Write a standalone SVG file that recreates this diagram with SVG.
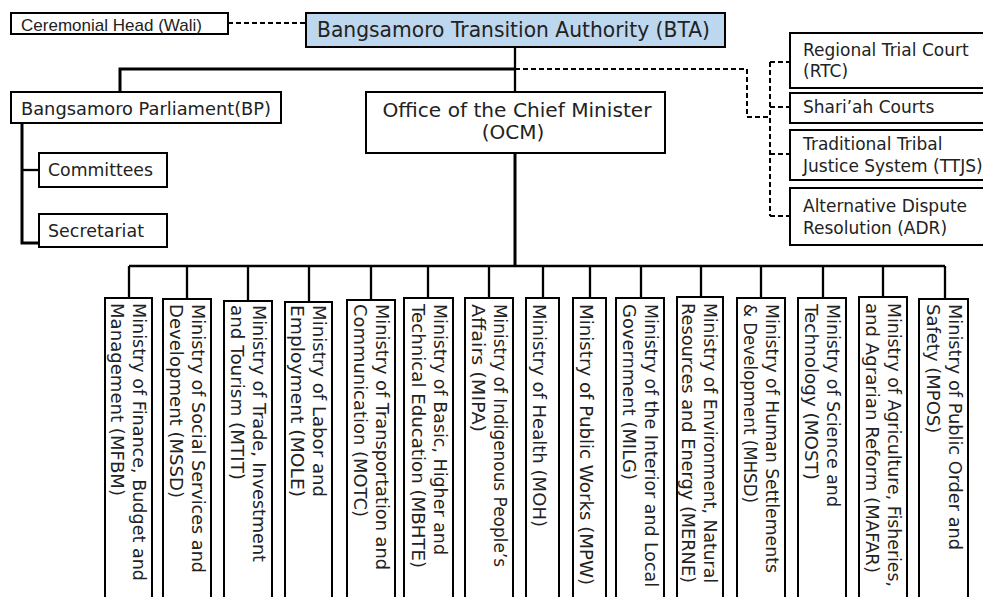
<svg xmlns="http://www.w3.org/2000/svg" width="983" height="597" viewBox="0 0 983 597">
<style>
.box{fill:#fff;stroke:#000;stroke-width:2}
.bta{fill:#bdd7ee;stroke:#000;stroke-width:2}
.t{font-family:"DejaVu Sans","Liberation Sans",sans-serif;fill:#222}
.h{stroke:#000;stroke-width:3;fill:none}
.s{stroke:#000;stroke-width:2.3;fill:none}
.d{stroke:#000;stroke-width:2;fill:none;stroke-dasharray:5 3}
.m{font-size:18px}
</style>
<rect width="983" height="597" fill="#fff"/>
<g id="connectors">
<path class="d" d="M228 23H306"/>
<path class="s" d="M515 47V92"/>
<path class="h" d="M120 92V69H515"/>
<path class="d" d="M515 69H747V117H770"/>
<path class="d" d="M770 62V216M770 62H790M770 107H790M770 154H790M770 216H790"/>
<path class="h" d="M22 123V243H39"/>
<path class="s" d="M22 170H39"/>
<path class="h" d="M515 153V266"/>
<path class="s" d="M129 266H945"/>
<path class="s" d="M129 266V298M187 266V299M248 266V301M309 266V302M371 266V300M428 266V298M489 266V298M543 266V298M590 266V298M641 266V298M701 266V297M761 266V298M823 266V298M883 266V297M945 266V299"/>
</g>
<g id="wali"><rect class="box" x="11" y="13" width="217" height="21"/><text x="21" y="31" font-family="'Liberation Sans', Arial, sans-serif" fill="#222" font-size="17" textLength="181" lengthAdjust="spacingAndGlyphs">Ceremonial Head (Wali)</text></g>
<g id="bta"><rect class="bta" x="306" y="13" width="419" height="34"/><text class="t" x="317" y="37" font-size="21" textLength="393" lengthAdjust="spacingAndGlyphs">Bangsamoro Transition Authority (BTA)</text></g>
<g id="bp"><rect class="box" x="11" y="92" width="270" height="31"/><text class="t" x="21" y="115" font-size="18" textLength="250" lengthAdjust="spacingAndGlyphs">Bangsamoro Parliament(BP)</text></g>
<g id="ocm"><rect class="box" x="366" y="92" width="299" height="61"/><text class="t" font-size="20" text-anchor="middle"><tspan x="517" y="117" textLength="269" lengthAdjust="spacingAndGlyphs">Office of the Chief Minister</tspan><tspan x="513" y="139">(OCM)</tspan></text></g>
<g id="committees"><rect class="box" x="39" y="153" width="128" height="34"/><text class="t" x="48" y="176" font-size="18" textLength="105" lengthAdjust="spacingAndGlyphs">Committees</text></g>
<g id="secretariat"><rect class="box" x="39" y="214" width="128" height="33"/><text class="t" x="48" y="237" font-size="18" textLength="96" lengthAdjust="spacingAndGlyphs">Secretariat</text></g>
<g id="rtc"><rect class="box" x="790" y="33" width="200" height="55"/><text class="t" font-size="17"><tspan x="803" y="56">Regional Trial Court</tspan><tspan x="803" y="77">(RTC)</tspan></text></g>
<g id="shariah"><rect class="box" x="790" y="93" width="200" height="30"/><text class="t" x="803" y="113" font-size="17">Shari’ah Courts</text></g>
<g id="ttjs"><rect class="box" x="790" y="130" width="200" height="50"/><text class="t" font-size="17"><tspan x="803" y="150">Traditional Tribal</tspan><tspan x="803" y="172">Justice System (TTJS)</tspan></text></g>
<g id="adr"><rect class="box" x="790" y="188" width="200" height="57"/><text class="t" font-size="17"><tspan x="803" y="212">Alternative Dispute</tspan><tspan x="803" y="234">Resolution (ADR)</tspan></text></g>
<g id="mfbm"><rect class="box" x="105" y="298" width="47" height="310"/><text class="t m" transform="translate(133 303) rotate(90)"><tspan x="0" y="0" textLength="278" lengthAdjust="spacingAndGlyphs">Ministry of Finance, Budget and</tspan><tspan x="0" y="22" textLength="193" lengthAdjust="spacingAndGlyphs">Management (MFBM)</tspan></text></g>
<g id="mssd"><rect class="box" x="163" y="299" width="48" height="310"/><text class="t m" transform="translate(192 304) rotate(90)"><tspan x="0" y="0" textLength="269" lengthAdjust="spacingAndGlyphs">Ministry of Social Services and</tspan><tspan x="0" y="22" textLength="194" lengthAdjust="spacingAndGlyphs">Development (MSSD)</tspan></text></g>
<g id="mtit"><rect class="box" x="224" y="301" width="48" height="310"/><text class="t m" transform="translate(253 305) rotate(90)"><tspan x="0" y="0" textLength="257" lengthAdjust="spacingAndGlyphs">Ministry of Trade, Investment</tspan><tspan x="0" y="22" textLength="175" lengthAdjust="spacingAndGlyphs">and Tourism (MTIT)</tspan></text></g>
<g id="mole"><rect class="box" x="285" y="302" width="47" height="310"/><text class="t m" transform="translate(313 305) rotate(90)"><tspan x="0" y="0" textLength="192" lengthAdjust="spacingAndGlyphs">Ministry of Labor and</tspan><tspan x="0" y="22" textLength="192" lengthAdjust="spacingAndGlyphs">Employment (MOLE)</tspan></text></g>
<g id="motc"><rect class="box" x="347" y="300" width="48" height="310"/><text class="t m" transform="translate(376 304) rotate(90)"><tspan x="0" y="0" textLength="266" lengthAdjust="spacingAndGlyphs">Ministry of Transportation and</tspan><tspan x="0" y="22" textLength="213" lengthAdjust="spacingAndGlyphs">Communication (MOTC)</tspan></text></g>
<g id="mbhte"><rect class="box" x="404" y="298" width="49" height="310"/><text class="t m" transform="translate(434 304) rotate(90)"><tspan x="0" y="0" textLength="251" lengthAdjust="spacingAndGlyphs">Ministry of Basic, Higher and</tspan><tspan x="0" y="22" textLength="264" lengthAdjust="spacingAndGlyphs">Technical Education (MBHTE)</tspan></text></g>
<g id="mipa"><rect class="box" x="465" y="298" width="48" height="310"/><text class="t m" transform="translate(494 304) rotate(90)"><tspan x="0" y="0" textLength="263" lengthAdjust="spacingAndGlyphs">Ministry of Indigenous People’s</tspan><tspan x="0" y="22" textLength="128" lengthAdjust="spacingAndGlyphs">Affairs (MIPA)</tspan></text></g>
<g id="moh"><rect class="box" x="526" y="298" width="33" height="310"/><text class="t m" transform="translate(533 304) rotate(90)" textLength="223" lengthAdjust="spacingAndGlyphs">Ministry of Health (MOH)</text></g>
<g id="mpw"><rect class="box" x="573" y="298" width="33" height="310"/><text class="t m" transform="translate(580 304) rotate(90)" textLength="281" lengthAdjust="spacingAndGlyphs">Ministry of Public Works (MPW)</text></g>
<g id="milg"><rect class="box" x="616" y="298" width="48" height="310"/><text class="t m" transform="translate(645 304) rotate(90)"><tspan x="0" y="0" textLength="283" lengthAdjust="spacingAndGlyphs">Ministry of the Interior and Local</tspan><tspan x="0" y="22" textLength="176" lengthAdjust="spacingAndGlyphs">Government (MILG)</tspan></text></g>
<g id="merne"><rect class="box" x="677" y="297" width="46" height="310"/><text class="t m" transform="translate(704 303) rotate(90)"><tspan x="0" y="0" textLength="280" lengthAdjust="spacingAndGlyphs">Ministry of Environment, Natural</tspan><tspan x="0" y="22" textLength="280" lengthAdjust="spacingAndGlyphs">Resources and Energy (MERNE)</tspan></text></g>
<g id="mhsd"><rect class="box" x="737" y="298" width="48" height="310"/><text class="t m" transform="translate(766 304) rotate(90)"><tspan x="0" y="0" textLength="269" lengthAdjust="spacingAndGlyphs">Ministry of Human Settlements</tspan><tspan x="0" y="22" textLength="199" lengthAdjust="spacingAndGlyphs">&amp; Development (MHSD)</tspan></text></g>
<g id="most"><rect class="box" x="798" y="298" width="48" height="310"/><text class="t m" transform="translate(827 304) rotate(90)"><tspan x="0" y="0" textLength="203" lengthAdjust="spacingAndGlyphs">Ministry of Science and</tspan><tspan x="0" y="22" textLength="176" lengthAdjust="spacingAndGlyphs">Technology (MOST)</tspan></text></g>
<g id="mafar"><rect class="box" x="859" y="297" width="48" height="310"/><text class="t m" transform="translate(888 303) rotate(90)"><tspan x="0" y="0" textLength="284" lengthAdjust="spacingAndGlyphs">Ministry of Agriculture, Fisheries,</tspan><tspan x="0" y="22" textLength="270" lengthAdjust="spacingAndGlyphs">and Agrarian Reform (MAFAR)</tspan></text></g>
<g id="mpos"><rect class="box" x="919" y="299" width="49" height="310"/><text class="t m" transform="translate(949 304) rotate(90)"><tspan x="0" y="0" textLength="246" lengthAdjust="spacingAndGlyphs">Ministry of Public Order and</tspan><tspan x="0" y="22">Safety (MPOS)</tspan></text></g>
</svg>
